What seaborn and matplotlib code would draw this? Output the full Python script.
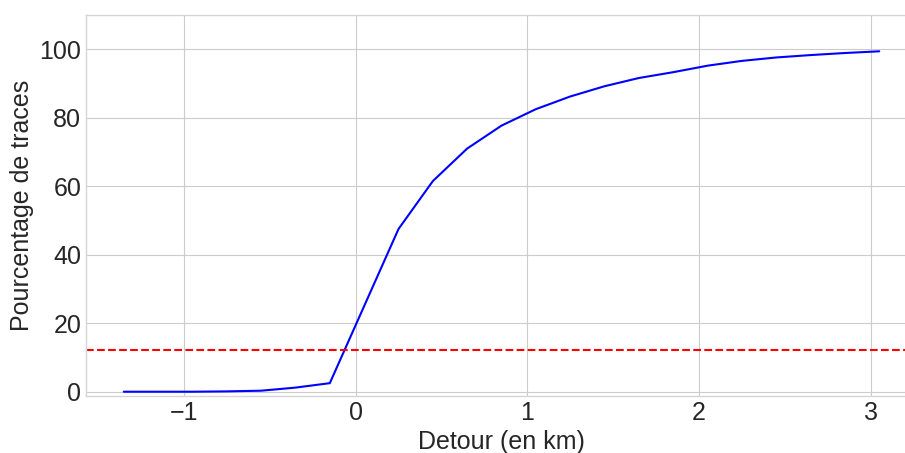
import numpy as np
import pandas as pd
import seaborn as sns
import matplotlib
matplotlib.use("Agg")
import matplotlib.pyplot as plt

plt.style.use("seaborn-v0_8-whitegrid")
plt.rcParams["font.family"] = ["Liberation Sans", "DejaVu Sans"]

# Data
detour_km = [-1.35, -1.15, -0.95, -0.75, -0.55, -0.35, -0.15, 0.25, 0.45, 0.65,
             0.85, 1.05, 1.25, 1.45, 1.65, 1.85, 2.05, 2.25, 2.45, 2.65, 2.85, 3.05]
pct_traces = [0.0, 0.0, 0.0, 0.1, 0.3, 1.2, 2.5, 47.5, 61.5, 71.0,
              77.7, 82.5, 86.2, 89.2, 91.6, 93.3, 95.2, 96.6, 97.6, 98.3, 98.9, 99.4]
threshold = 12.2

df = pd.DataFrame({"detour": detour_km, "pct": pct_traces})

fig, ax = plt.subplots(figsize=(9.05, 4.53), dpi=100)
sns.lineplot(data=df, x="detour", y="pct", color="blue", linewidth=1.5, ax=ax)
ax.axhline(threshold, color="red", linestyle="--", linewidth=1.5)

ax.set_ylim(-1.25, 110)
ax.set_xlabel("Detour (en km)", fontsize=18, color="#262626")
ax.set_ylabel("Pourcentage de traces", fontsize=18, color="#262626")
ax.tick_params(labelsize=18, colors="#262626")
for s in ax.spines.values():
    s.set_visible(True)
    s.set_color("#d5d5d5")

# right edge of the axes runs past the figure, as in the cropped original
fig.subplots_adjust(left=86 / 905, right=917 / 905, top=1 - 15 / 453, bottom=1 - 396 / 453)
fig.savefig("out.png", dpi=100)
